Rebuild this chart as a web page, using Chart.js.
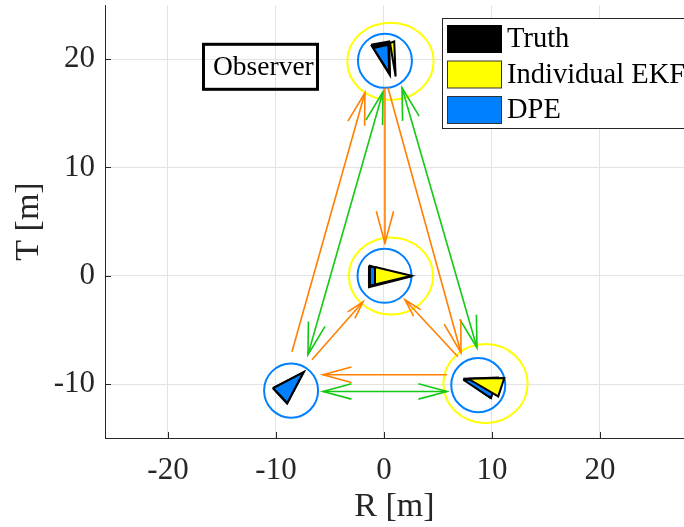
<!DOCTYPE html>
<html>
<head>
<meta charset="utf-8">
<script src="https://cdn.jsdelivr.net/npm/chart.js@4.4.1/dist/chart.umd.min.js"></script>
<style>
	html, body { margin: 0; padding: 0; background: #fff; overflow: hidden; }
	canvas { display: block; }
</style>
</head>
<body>
<canvas id="chart-canvas" width="684" height="527"></canvas>
<script>
// axis ticks and labels
const r_ticks = [-20, -10, 0, 10, 20]
const t_ticks = [-10, 0, 10, 20]
const r_label = 'R [m]'
const t_label = 'T [m]'
const legend_labels = ['Truth', 'Individual EKF', 'DPE']
const observer_label = 'Observer'

// DPE uncertainty circles: centre and radius [m]
const dpe_circle_r = [0.09, 0.05, -8.6, 8.73]
const dpe_circle_t = [19.85, 0, -10.6, -10.1]
const dpe_circle_radius = [2.5, 2.5, 2.5, 2.5]

// individual EKF uncertainty ellipses: centre and semi axes [m]
const ekf_ellipse_r = [0.6, 0.65, 9.4]
const ekf_ellipse_t = [19.8, -0.02, -9.96]
const ekf_ellipse_semi_r = [4.0, 3.9, 3.9]
const ekf_ellipse_semi_t = [3.57, 3.55, 3.65]

// agent triangles, vertices as [R, T]
const truth_triangles = [
	[[-1.2, 21.33], [0.49, 21.63], [0.56, 18.5]],
	[[-1.39, 0.95], [-1.39, -1.05], [2.35, -0.1]],
	[[-10.3, -10.37], [-7.42, -8.9], [-8.97, -11.8]],
	[[7.34, -9.51], [10.53, -9.39], [9.81, -11.24]]
]
const dpe_triangles = [
	[[-0.99, 21.03], [0.4, 21.33], [0.49, 18.71]],
	[[-1.3, 0.85], [-1.3, -0.92], [2.1, -0.08]],
	[[-10.25, -10.37], [-7.47, -8.93], [-8.95, -11.75]],
	[[7.34, -9.6], [10.44, -9.6], [9.91, -11.3]]
]
const ekf_triangles = [
	[[0.56, 21.49], [0.95, 21.63], [1.08, 18.4]],
	[[-0.83, 0.8], [-0.83, -0.8], [2.55, 0]],
	[[7.81, -9.51], [11.14, -9.45], [10.58, -11.14]]
]

// one way links (orange)
const orange_from_r = [-8.52, 0.09, 0.37, 6.85, -6.67, 5.83]
const orange_from_t = [-7.02, 17.36, 17.36, -7.48, -7.76, -9.14]
const orange_to_r = [-1.76, 0.09, 7.13, 1.94, -1.94, -5.65]
const orange_to_t = [16.9, 3.0, -7.11, -2.22, -2.4, -9.14]

// two way links (green)
const green_from_r = [-0.09, 1.67, -5.65]
const green_from_t = [16.99, 17.36, -10.68]
const green_to_r = [-7.04, 8.61, 5.83]
const green_to_t = [-7.29, -6.65, -10.68]

const font_family = "'Liberation Serif', 'DejaVu Serif', serif"
const axis_colour = '#262626'
const blue = '#0080ff'
const yellow = '#ffff00'
const orange = '#ff8000'
const green = '#14c814'

function draw_head(ctx, from, to, colour) {
	let dx = to.x - from.x
	let dy = to.y - from.y
	let len = Math.hypot(dx, dy)
	let head = Math.min(0.23 * len, 32)
	let half = head * 0.27
	let ux = dx / len
	let uy = dy / len
	let bx = to.x - ux * head
	let by = to.y - uy * head
	ctx.beginPath()
	ctx.moveTo(bx - uy * half, by + ux * half)
	ctx.lineTo(to.x, to.y)
	ctx.lineTo(bx + uy * half, by - ux * half)
	ctx.strokeStyle = colour
	ctx.lineWidth = 1.6
	ctx.stroke()
}

const arrow_heads = {
	id: 'arrow_heads',
	afterDatasetDraw(chart, args) {
		let ds = chart.data.datasets[args.index]
		if (!ds.heads) {
			return
		}
		let pts = args.meta.data
		let ctx = chart.ctx
		ctx.save()
		draw_head(ctx, pts[0], pts[1], ds.borderColor)
		if (ds.heads == 'both') {
			draw_head(ctx, pts[1], pts[0], ds.borderColor)
		}
		ctx.restore()
	}
}

const ellipses = {
	id: 'ellipses',
	beforeDatasetsDraw(chart) {
		let ctx = chart.ctx
		let x = chart.scales.x
		let y = chart.scales.y
		let area = chart.chartArea
		ctx.save()
		ctx.beginPath()
		ctx.rect(area.left, area.top, area.right - area.left, area.bottom - area.top)
		ctx.clip()
		let draw = (r, t, sr, st, colour) => {
			let cx = x.getPixelForValue(r)
			let cy = y.getPixelForValue(t)
			let rx = Math.abs(x.getPixelForValue(r + sr) - cx)
			let ry = Math.abs(y.getPixelForValue(t + st) - cy)
			ctx.beginPath()
			ctx.ellipse(cx, cy, rx, ry, 0, 0, Math.PI * 2)
			ctx.strokeStyle = colour
			ctx.lineWidth = 2
			ctx.stroke()
		}
		for (let i = 0; i < ekf_ellipse_r.length; i ++) {
			draw(ekf_ellipse_r[i], ekf_ellipse_t[i], ekf_ellipse_semi_r[i], ekf_ellipse_semi_t[i], yellow)
		}
		for (let i = 0; i < dpe_circle_r.length; i ++) {
			draw(dpe_circle_r[i], dpe_circle_t[i], dpe_circle_radius[i], dpe_circle_radius[i], blue)
		}
		ctx.restore()
	}
}

const overlay = {
	id: 'overlay',
	afterDraw(chart) {
		let ctx = chart.ctx
		let x = chart.scales.x
		let y = chart.scales.y
		let area = chart.chartArea
		ctx.save()

		// ticks pointing inwards
		ctx.strokeStyle = axis_colour
		ctx.lineWidth = 1
		ctx.beginPath()
		x.ticks.forEach(tick => {
			let px = Math.round(x.getPixelForValue(tick.value)) + 0.5
			ctx.moveTo(px, area.bottom)
			ctx.lineTo(px, area.bottom - 6)
		})
		y.ticks.forEach(tick => {
			let py = Math.round(y.getPixelForValue(tick.value)) + 0.5
			ctx.moveTo(area.left, py)
			ctx.lineTo(area.left + 6, py)
		})
		ctx.stroke()

		// legend box
		let colours = ['#000000', yellow, blue]
		ctx.fillStyle = '#fff'
		ctx.fillRect(442.5, 18.5, 260, 110)
		ctx.strokeStyle = axis_colour
		ctx.strokeRect(442.5, 18.5, 260, 110)
		ctx.font = `28.5px ${font_family}`
		ctx.textBaseline = 'middle'
		ctx.textAlign = 'left'
		for (let i = 0; i < legend_labels.length; i ++) {
			let top = 25 + i * 35.5
			ctx.fillStyle = colours[i]
			ctx.fillRect(447.5, top + 0.5, 54, 27)
			ctx.strokeStyle = i == 0 ? '#000' : '#333'
			ctx.strokeRect(447.5, top + 0.5, 54, 27)
			ctx.fillStyle = '#000'
			ctx.fillText(legend_labels[i], 507, top + 15)
		}

		// observer annotation, anchored in data space
		let left = x.getPixelForValue(-16.85)
		let mid = y.getPixelForValue(19.34)
		ctx.font = `27.5px ${font_family}`
		ctx.lineWidth = 3
		ctx.strokeStyle = '#000'
		ctx.strokeRect(left + 1.5, mid - 22, 114, 45)
		ctx.fillStyle = '#000'
		ctx.fillText(observer_label, left + 11, mid + 1)
		ctx.restore()
	}
}

class CreateChart {

	constructor() {
		this.canvas = document.getElementById('chart-canvas')
	}

	to_points(vertices) {
		return vertices.map(v => ({x: v[0], y: v[1]}))
	}

	get_triangle_datasets(triangles, colour, order) {
		return triangles.map(tri => ({
			data: this.to_points([...tri, tri[0]]),
			showLine: true,
			fill: 'shape',
			backgroundColor: colour,
			borderColor: '#000',
			borderWidth: 2,
			pointRadius: 0,
			order: order
		}))
	}

	get_arrow_datasets(from_r, from_t, to_r, to_t, colour, heads) {
		let datasets = []
		for (let i = 0; i < from_r.length; i ++) {
			datasets.push({
				data: [{x: from_r[i], y: from_t[i]}, {x: to_r[i], y: to_t[i]}],
				showLine: true,
				fill: false,
				borderColor: colour,
				borderWidth: 1.6,
				pointRadius: 0,
				heads: heads,
				order: 4
			})
		}
		return datasets
	}

	get_datasets() {
		return [
			...this.get_arrow_datasets(orange_from_r, orange_from_t, orange_to_r, orange_to_t, orange, 'end'),
			...this.get_arrow_datasets(green_from_r, green_from_t, green_to_r, green_to_t, green, 'both'),
			...this.get_triangle_datasets(truth_triangles, '#000000', 3),
			...this.get_triangle_datasets(dpe_triangles, blue, 2),
			...this.get_triangle_datasets(ekf_triangles, yellow, 1)
		]
	}

	get_scale(ticks, min, max, label, pad, title_pad, size) {
		return {
			type: 'linear',
			min: min,
			max: max,
			afterBuildTicks: scale => { scale.ticks = ticks.map(v => ({value: v})) },
			afterFit: scale => {
				size(scale)
				scale.paddingTop = 0
				scale.paddingBottom = 0
				scale.paddingLeft = 0
				scale.paddingRight = 0
			},
			grid: { color: '#e3e3e3', lineWidth: 1, drawTicks: false },
			border: { color: axis_colour, width: 1 },
			ticks: {
				font: { family: font_family, size: 31 },
				color: axis_colour,
				padding: pad,
				maxRotation: 0,
				autoSkip: false
			},
			title: {
				display: true,
				text: label,
				font: { family: font_family, size: 34 },
				color: axis_colour,
				padding: title_pad
			}
		}
	}

	create_chart() {
		return new Chart(this.canvas, {
			type: 'scatter',
			data: { datasets: this.get_datasets() },
			options: {
				responsive: false,
				animation: false,
				events: [],
				layout: { padding: { top: 5, right: 0, bottom: 0, left: 0 } },
				scales: {
					x: this.get_scale(r_ticks, -25.83, 27.78, r_label, 14, { top: 0, bottom: 0 }, scale => { scale.height = 89 }),
					y: this.get_scale(t_ticks, -14.98, 25, t_label, 10, { top: 9, bottom: 0 }, scale => { scale.width = 105 })
				},
				plugins: {
					legend: { display: false },
					tooltip: { enabled: false }
				}
			},
			plugins: [ellipses, arrow_heads, overlay]
		})
	}
}

new CreateChart().create_chart()
</script>
</body>
</html>
